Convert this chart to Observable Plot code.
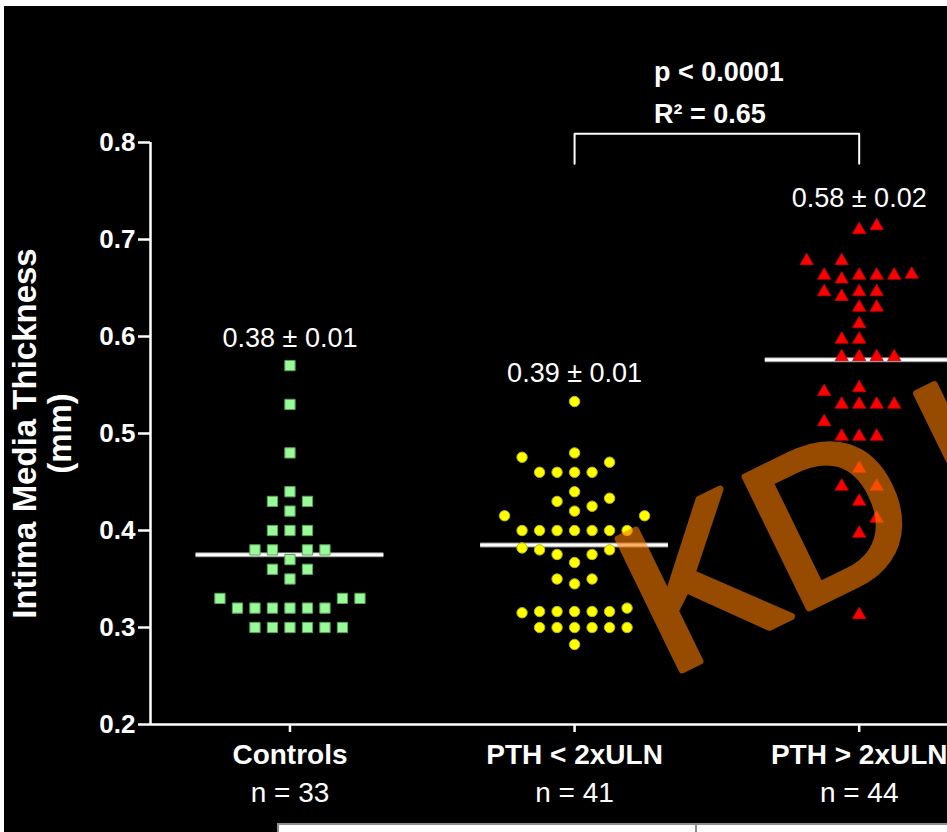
<!DOCTYPE html>
<html>
<head>
<meta charset="utf-8">
<script src="https://cdn.jsdelivr.net/npm/d3@7"></script>
<script src="https://cdn.jsdelivr.net/npm/@observablehq/plot@0.6"></script>
<style>
  html, body { margin: 0; padding: 0; background: #fff; width: 947px; height: 832px; overflow: hidden; }
  #panel { position: absolute; left: 4px; top: 6px; width: 1100px; height: 826px; background: #000; overflow: hidden; }
  #sheet { position: absolute; left: 277px; top: 823px; width: 720px; height: 24px; background: #fff;
           border: 2px solid #8e8e8e; box-sizing: border-box; }
  #sheet::after { content: ""; position: absolute; left: 416px; top: 0; width: 2px; height: 100%; background: #8e8e8e; }
  #panel svg { display: block; }
</style>
</head>
<body>
<div id="panel"></div>
<div id="sheet"></div>
<script>
// Groups and labels
const groups = ["Controls", "PTH < 2xULN", "PTH > 2xULN"];
const sampleSizes = [33, 41, 44];

// Intima media thickness (mm) of each subject
const controls = [
  0.57, 0.53, 0.48, 0.44, 0.43, 0.43, 0.42, 0.40, 0.40, 0.40,
  0.38, 0.38, 0.38, 0.38, 0.37, 0.36, 0.36, 0.35, 0.33, 0.33, 0.33,
  0.32, 0.32, 0.32, 0.32, 0.32, 0.32,
  0.30, 0.30, 0.30, 0.30, 0.30, 0.30
];
const pthLow = [
  0.533, 0.480, 0.4755, 0.4704, 0.46, 0.46, 0.46, 0.46, 0.44, 0.4333, 0.430, 0.425, 0.42,
  0.4152, 0.4152, 0.40, 0.40, 0.40, 0.40, 0.40, 0.40, 0.40,
  0.382, 0.38, 0.38, 0.3753, 0.3753, 0.367, 0.35, 0.35, 0.345,
  0.32, 0.3165, 0.3165, 0.3165, 0.3165, 0.3165, 0.3152,
  0.30, 0.30, 0.30, 0.30, 0.30, 0.30, 0.2825
];
const pthHigh = [
  0.714, 0.710, 0.678, 0.678, 0.664, 0.659, 0.663, 0.663, 0.663, 0.663,
  0.646, 0.646, 0.646, 0.641, 0.630, 0.630, 0.613, 0.597, 0.597,
  0.579, 0.579, 0.579, 0.579, 0.547, 0.543, 0.530, 0.530, 0.530, 0.530,
  0.512, 0.497, 0.497, 0.497, 0.464, 0.4455, 0.4455, 0.430, 0.4125, 0.397, 0.313
];

// Group summaries: mean ± SEM
const means = [0.375, 0.385, 0.576];
const sems = [0.01, 0.01, 0.02];

// Comparison of the two PTH groups
const pValueText = "p < 0.0001";
const r2Text = "R\u00b2 = 0.65";
const bracketTop = 0.809;
const bracketFoot = 0.778;

// Axes
const yTicks = [0.2, 0.3, 0.4, 0.5, 0.6, 0.7, 0.8];
const yDomain = [0.2, 0.8];
const xDomain = [-0.49, 2.5];

// Column layout of the scatter: close values sit side by side in a row
const slotStep = 0.0615;   // spacing between neighbouring columns, in group units
const rowGap = 0.016;      // values closer than this cannot share a column
const halfLine = 0.33;     // half length of the mean bar, in group units

function swarm(values, group) {
  const sorted = values.slice().sort(d3.ascending);
  const placed = [];
  let left = 0, right = 0;
  for (const value of sorted) {
    const free = s => !placed.some(p => p.slot === s && Math.abs(p.value - value) < rowGap);
    let slot = 0;
    if (!free(0)) {
      for (let k = 1; ; k++) {
        const order = left < right ? [-k, k] : [k, -k];
        const s = order.find(free);
        if (s !== undefined) { slot = s; break; }
      }
    }
    if (slot < 0) left++; else if (slot > 0) right++;
    placed.push({group, value, slot, x: group + slot * slotStep});
  }
  return placed;
}

const series = [controls, pthLow, pthHigh];
const points = series.map((vals, i) => swarm(vals, i));
const stats = groups.map((name, i) => ({
  i,
  mean: means[i],
  top: d3.max(series[i]),
  label: `${means[i].toFixed(2)} \u00b1 ${sems[i].toFixed(2)}`
}));
const bracket = [
  {x: 1, y: bracketFoot}, {x: 1, y: bracketTop},
  {x: 2, y: bracketTop}, {x: 2, y: bracketFoot}
];

const font = "'Liberation Sans', Arial, sans-serif";
const orange = "rgb(250,125,0)";

const chart = Plot.plot({
  width: 1057,
  height: 818,
  marginLeft: 146,
  marginRight: 60,
  marginTop: 136,
  marginBottom: 100,
  style: {background: "#000", color: "#fff", fontFamily: font, overflow: "visible"},
  x: {domain: xDomain},
  y: {domain: yDomain},
  marks: [
    // axis lines
    Plot.ruleX([xDomain[0]], {stroke: "#fff", strokeWidth: 2.5}),
    Plot.ruleY([yDomain[0]], {stroke: "#fff", strokeWidth: 2.5}),
    Plot.axisY({
      ticks: yTicks, tickFormat: d => d.toFixed(1), tickSize: 12, tickPadding: 3,
      fontSize: 26, fontWeight: "bold", strokeWidth: 2.5, label: null
    }),
    Plot.axisX({
      ticks: [0, 1, 2], tickFormat: i => groups[i], tickSize: 8, tickPadding: 12,
      fontSize: 28, fontWeight: "bold", strokeWidth: 2.5, label: null
    }),
    Plot.axisX({
      ticks: [0, 1, 2], tickFormat: i => `n = ${sampleSizes[i]}`, tickSize: 0, tickPadding: 58,
      fontSize: 28, label: null
    }),
    // y axis title
    Plot.text(["Intima Media Thickness\n(mm)"], {
      frameAnchor: "left", dx: -139, rotate: -90, textAnchor: "middle", lineAnchor: "top",
      lineHeight: 1.05, fontSize: 33, fontWeight: "bold", fill: "#fff"
    }),
    // mean bars
    Plot.ruleY(stats, {y: "mean", x1: d => d.i - halfLine, x2: d => d.i + halfLine, stroke: "#8a8a8a", strokeWidth: 5}),
    Plot.ruleY(stats, {y: "mean", x1: d => d.i - halfLine, x2: d => d.i + halfLine, stroke: "#fff", strokeWidth: 3}),
    // individual subjects
    Plot.dot(points[0], {x: "x", y: "value", symbol: "square", r: 5.8, fill: "#98fb98", stroke: "#5e9e5e", strokeWidth: 1}),
    Plot.dot(points[1], {x: "x", y: "value", symbol: "circle", r: 5.2, fill: "#ffff00", stroke: "#b8b800", strokeWidth: 1}),
    Plot.dot(points[2], {x: "x", y: "value", symbol: "triangle", r: 4.9, fill: "#ff0000", stroke: "#d00000", strokeWidth: 0.8}),
    // mean ± SEM labels
    Plot.text(stats, {x: "i", y: "top", text: "label", dy: -19, lineAnchor: "bottom", fontSize: 27, fill: "#fff"}),
    // comparison bracket and statistics
    Plot.line(bracket, {x: "x", y: "y", stroke: "#fff", strokeWidth: 2}),
    Plot.text([`${pValueText}\n${r2Text}`], {
      x: () => 1.5, y: () => bracketTop, dx: -63, dy: -11, textAnchor: "start", lineAnchor: "bottom",
      lineHeight: 1.55, fontSize: 27, fontWeight: "bold", fill: "#fff"
    }),
    // watermark
    Plot.text(["KD\u2006IGO"], {
      frameAnchor: "top-left", dx: 516, dy: 535, rotate: -26, textAnchor: "start", lineAnchor: "bottom",
      fontSize: 212, fill: orange, stroke: orange, strokeWidth: 7, strokeLinejoin: "round", opacity: 0.6
    })
  ]
});

document.getElementById("panel").append(chart);
</script>
</body>
</html>
